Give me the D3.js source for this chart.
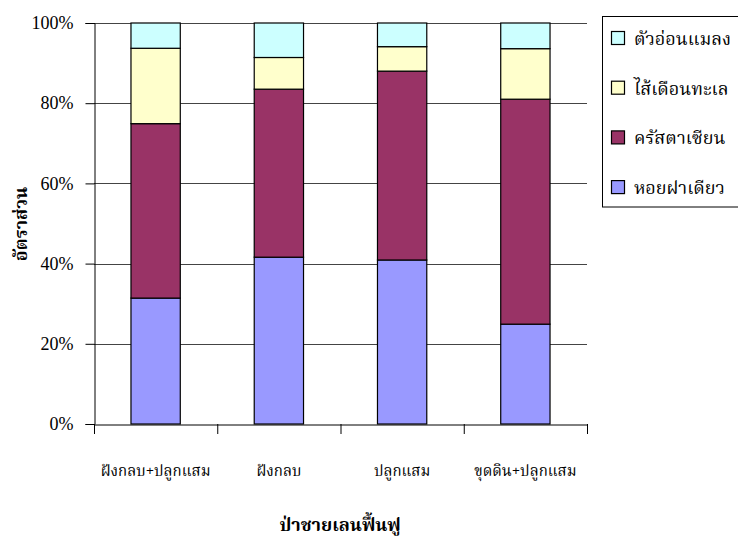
<!DOCTYPE html>
<html><head><meta charset="utf-8">
<script src="https://cdn.jsdelivr.net/npm/d3@7"></script>
<style>
body{margin:0;background:#fff;}
svg{display:block;}
.thai{font-family:"Noto Serif Thai","Norasi","Kinnari","Garuda","Loma","Noto Sans Thai",serif;}
.tick text{font-family:"Liberation Serif","Times New Roman",serif;}
</style></head>
<body><svg id="c" width="738" height="542"></svg>
<script>
const categories = ["ฝังกลบ+ปลูกแสม","ฝังกลบ","ปลูกแสม","ขุดดิน+ปลูกแสม"];
const seriesNames = ["หอยฝาเดียว","ครัสตาเซียน","ไส้เดือนทะเล","ตัวอ่อนแมลง"];
const hoiFaDiao = [31.4,41.6,40.9,24.9];
const crustacean = [43.5,41.9,47.1,56.1];
const saiDuean = [18.8,7.9,6.1,12.6];
const insectLarva = [6.3,8.6,5.9,6.4];
const yTicks = [0,20,40,60,80,100];
const colors = ["#9999FF","#993366","#FFFFCC","#CCFFFF"];

const seriesValues = [hoiFaDiao,crustacean,saiDuean,insectLarva];
const rows = categories.map((c,i)=>{const r={cat:c}; seriesNames.forEach((s,j)=>r[s]=seriesValues[j][i]); return r;});
const stack = d3.stack().keys(seriesNames)(rows);

const svg = d3.select("#c");
const m = {l:94,r:587,t:23,b:424};
const x = d3.scaleBand().domain(categories).range([m.l,m.r]).paddingInner(0.6).paddingOuter(0.3);
const xb = d3.scaleBand().domain(categories).range([m.l,m.r]);
const y = d3.scaleLinear().domain([0,100]).range([m.b,m.t]);

// gridlines
svg.append("g").selectAll("line").data(yTicks.filter(t=>t>0)).join("line")
  .attr("x1",m.l).attr("x2",m.r).attr("y1",d=>Math.round(y(d))+0.5).attr("y2",d=>Math.round(y(d))+0.5)
  .attr("stroke","#444").attr("stroke-width",1);

// bars
svg.append("g").selectAll("g").data(stack).join("g").attr("fill",(d,i)=>colors[i])
  .selectAll("rect").data(d=>d).join("rect")
  .attr("x",d=>x(d.data.cat)).attr("width",x.bandwidth())
  .attr("y",d=>y(d[1])).attr("height",d=>y(d[0])-y(d[1]))
  .attr("stroke","#000").attr("stroke-width",1.2);

// y axis
const ya = svg.append("g").attr("transform",`translate(${m.l+0.5},0)`)
  .call(d3.axisLeft(y).tickValues(yTicks).tickFormat(d=>d+"%").tickSize(9).tickPadding(12));
ya.attr("font-family",null);
ya.select(".domain").attr("stroke","#000");
ya.selectAll("line").attr("stroke","#000");
ya.selectAll("text").style("font-family","'Liberation Serif','Times New Roman',serif").style("font-size","18px").attr("fill","#000");

// x axis
const xa = svg.append("g").attr("transform",`translate(0,${m.b+0.5})`)
  .call(d3.axisBottom(xb).tickSize(0).tickFormat(""));
xa.select(".domain").attr("stroke","#000");
const bounds = categories.map(c=>xb(c)).concat([m.r]);
svg.append("g").selectAll("line").data(bounds).join("line")
  .attr("x1",d=>d+0.5).attr("x2",d=>d+0.5).attr("y1",m.b).attr("y2",m.b+10).attr("stroke","#000");
svg.append("g").selectAll("text").data(categories).join("text").attr("class","thai")
  .attr("x",d=>xb(d)+xb.bandwidth()/2).attr("y",476).attr("text-anchor","middle")
  .attr("font-size",15).attr("fill","#000").text(d=>d);

// axis titles
svg.append("text").attr("class","thai").attr("x",340).attr("y",531).attr("text-anchor","middle")
  .attr("font-size",18).attr("font-weight","bold").text("ป่าชายเลนฟื้นฟู");
svg.append("text").attr("class","thai").attr("transform","translate(27,224) rotate(-90)").attr("text-anchor","middle")
  .attr("font-size",18).attr("font-weight","bold").text("อัตราส่วน");

// legend
const lg = svg.append("g");
lg.append("rect").attr("x",602.5).attr("y",16.5).attr("width",150).attr("height",190.5).attr("fill","#fff").attr("stroke","#000");
const legOrder = [3,2,1,0];
const li = lg.selectAll("g.li").data(legOrder).join("g").attr("class","li")
  .attr("transform",(d,i)=>`translate(0,${38+i*49.7})`);
li.append("rect").attr("x",611.5).attr("y",-6.5).attr("width",13).attr("height",13).attr("fill",d=>colors[d]).attr("stroke","#000").attr("stroke-width",1.2);
li.append("text").attr("class","thai").attr("x",634).attr("y",7).attr("font-size",18).attr("fill","#000").text(d=>seriesNames[d]);
</script></body></html>
